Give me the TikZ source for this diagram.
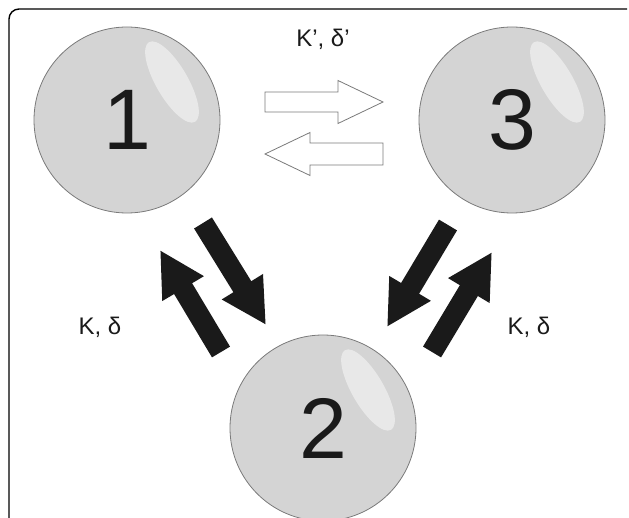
\documentclass[tikz,border=0pt]{standalone}
\usepackage{fontspec}
\setmainfont{Liberation Sans}
\usetikzlibrary{arrows.meta}
\definecolor{ballgray}{HTML}{D4D4D4}
\definecolor{edgegray}{HTML}{7A7A7A}
\definecolor{shinegray}{HTML}{E8E8E8}
\definecolor{inkblack}{HTML}{1A1A1A}

\begin{document}
\begin{tikzpicture}[x=1pt,y=-1pt,
  ball/.style={circle,minimum size=186pt,inner sep=0pt,fill=ballgray,draw=edgegray,line width=0.8pt,
    font=\fontsize{86}{86}\selectfont,text=inkblack,
    path picture={\fill[shinegray] ([shift={(45,-38)}]path picture bounding box.center)
      ellipse [x radius=46,y radius=16,rotate=-60];}},
  rate/.style={font=\fontsize{24}{24}\selectfont,text=inkblack},
  fatarrow/.style={line width=21pt,draw=inkblack,-{Triangle[length=45pt,width=45pt]}},
  hollowarrow/.style={draw=edgegray,fill=white,line width=0.8pt}]
\useasboundingbox (0,0) rectangle (629,518);
% frame, open to the right and below
\draw[line width=1.4pt,rounded corners=10pt] (627,9) -- (9,9) -- (9,522);

% the three states
\node[ball] (s1) at (127,120) {1};
\node[ball] (s3) at (512,120) {3};
\node[ball] (s2) at (323,428) {2};

% rate labels
\node[rate] (k13) at (323,39) {Κ’, δ’};
\node[rate] (k12) at (100,327) {Κ, δ};
\node[rate] (k32) at (529,327) {Κ, δ};

% hollow arrows between 1 and 3
\coordinate (h13) at (265,102);
\coordinate (h31) at (383,154);
\draw[hollowarrow] (h13) ++(0,-10) -- ++(73,0) -- ++(0,-11.5) -- ++(45,21.5)
  -- ++(-45,21.5) -- ++(0,-11.5) -- ++(-73,0) -- cycle;
\draw[hollowarrow] (h31) ++(0,-11) -- ++(-73,0) -- ++(0,-10.5) -- ++(-45,21.5)
  -- ++(45,21.5) -- ++(0,-10.5) -- ++(73,0) -- cycle;

% black arrows to and from 2
\coordinate (a21) at (221,352);
\coordinate (b21) at (160,250);
\coordinate (a12) at (203,223);
\coordinate (b12) at (266,325);
\coordinate (a32) at (448,225);
\coordinate (b32) at (387,327);
\coordinate (a23) at (432,352);
\coordinate (b23) at (492,252);
\draw[fatarrow] (a21) -- (b21);
\draw[fatarrow] (a12) -- (b12);
\draw[fatarrow] (a32) -- (b32);
\draw[fatarrow] (a23) -- (b23);
\end{tikzpicture}
\end{document}
